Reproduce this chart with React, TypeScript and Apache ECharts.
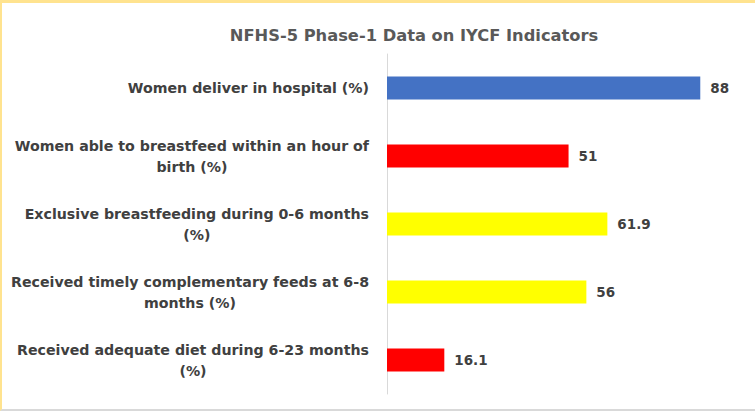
import React, { useEffect, useRef } from "react";
import * as echarts from "echarts";

const titleText = "NFHS-5 Phase-1 Data on IYCF Indicators";
const categories = [
  "Women deliver in hospital (%)",
  "Women able to breastfeed within an hour of\nbirth (%)",
  "Exclusive breastfeeding during 0-6 months\n(%)",
  "Received timely complementary feeds at 6-8\nmonths (%)",
  "Received adequate diet during 6-23 months\n(%)",
];
const values = [88, 51, 61.9, 56, 16.1];
const barColors = ["#4472C4", "#FF0000", "#FFFF00", "#FFFF00", "#FF0000"];

export default function App() {
  const ref = useRef<HTMLDivElement>(null);
  useEffect(() => {
    if (!ref.current) return;
    const chart = echarts.init(ref.current, null, { renderer: "svg" });
    const font = "DejaVu Sans, sans-serif";
    chart.setOption({
      animation: false,
      backgroundColor: "#ffffff",
      title: {
        text: titleText,
        left: 409,
        textAlign: "center",
        top: 22,
        textStyle: { fontFamily: font, fontSize: 16.3, fontWeight: "bold", color: "#595959" },
      },
      grid: { left: 387, right: 12, top: 54, bottom: 17, containLabel: false },
      xAxis: {
        type: "value",
        min: 0,
        max: 100,
        show: false,
      },
      yAxis: {
        type: "category",
        data: categories,
        inverse: true,
        axisLine: { show: true, lineStyle: { color: "#d9d9d9", width: 1 } },
        axisTick: { show: false },
        axisLabel: {
          margin: 18,
          align: "right",
          formatter: (v: string) =>
            v
              .split("\n")
              .map((l) => `{c|${l}}`)
              .join("\n"),
          rich: {
            c: {
              align: "center",
              fontFamily: font,
              fontSize: 14.2,
              fontWeight: "bold",
              color: "#404040",
              lineHeight: 21,
            },
          },
        },
      },
      series: [
        {
          type: "bar",
          data: values.map((v, i) => ({ value: v, itemStyle: { color: barColors[i] } })),
          barWidth: 23,
          label: {
            show: true,
            position: "right",
            distance: 10,
            fontFamily: font,
            fontSize: 13.5,
            fontWeight: "bold",
            color: "#404040",
          },
        },
      ],
    });
    return () => chart.dispose();
  }, []);
  return (
    <div style={{ position: "absolute", left: 0, top: 0, width: 755, height: 411, background: "#fff" }}>
      <div ref={ref} style={{ position: "absolute", left: 0, top: 0, width: 755, height: 411 }} />
      <div
        style={{
          position: "absolute",
          left: 0,
          top: 0,
          width: 755,
          height: 411,
          boxSizing: "border-box",
          borderTop: "3px solid #FFE38F",
          borderLeft: "2px solid #FFE38F",
          borderBottom: "2px solid #d9d9d9",
          pointerEvents: "none",
        }}
      />
    </div>
  );
}
